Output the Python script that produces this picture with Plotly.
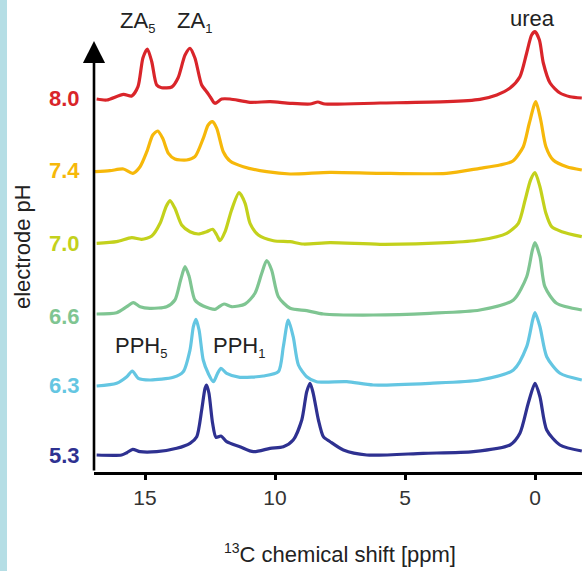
import plotly.graph_objects as go

# ---- data ----
PH_LABELS = ["8.0", "7.4", "7.0", "6.6", "6.3", "5.3"]
COLORS = ["#d9252a", "#f6b80a", "#c3d11c", "#7fc592", "#64c6e2", "#2e3191"]

PPM_80 = [16.86, 16.47, 15.83, 15.51, 15.27, 15.08, 14.91, 14.74, 14.55, 14.36, 13.97, 13.73, 13.46, 13.27, 13.08,
          12.82, 12.63, 12.47, 12.31, 12.05, 11.73, 10.96, 10.19, 9.42, 8.65, 8.35, 8.08, 5.96, 3.38, 2.12, 1.47,
          0.96, 0.58, 0.32, 0.13, 0.0, -0.17, -0.32, -0.58, -0.96, -1.35, -1.80]
INT_80 = [-1, -2, 3.7, 2, 11.3, 40, 49, 36.3, 13, 10.3, 11, 20, 43, 49.7, 40,
          13, 6.3, 0.3, -5.3, -1, -1, -4.3, -3.7, -5.3, -6, -4, -6, -5, -3.7, -1.3, 3,
          10, 21.3, 45, 63, 66.3, 58, 35, 15, 5, 1.3, 0]

PPM_74 = [16.92, 16.35, 15.83, 15.47, 15.19, 14.93, 14.70, 14.51, 14.32, 14.10, 13.85, 13.40, 13.08, 12.76, 12.57,
          12.41, 12.24, 11.99, 11.73, 11.22, 10.32, 9.42, 7.88, 5.96, 3.40, 2.12, 1.35, 0.85, 0.45, 0.22, -0.03,
          -0.22, -0.42, -0.70, -1.22, -1.80]
INT_74 = [-1.7, -0.7, 1, -3.3, 3.3, 18.3, 35, 39, 31.7, 16.7, 11, 10, 13.3, 31.7, 45,
          48.3, 41.7, 18.3, 9, 3.3, -1.7, -4, -2.3, -3.3, -3.3, 1.7, 5, 9, 23.3, 46.7, 68.3,
          50, 23.3, 10, 3.3, 0]

PPM_70 = [16.86, 16.09, 15.51, 15.13, 14.74, 14.42, 14.19, 14.04, 13.85, 13.59, 13.27, 12.95, 12.63, 12.40, 12.24,
          12.12, 11.92, 11.67, 11.38, 11.15, 10.96, 10.64, 10.06, 9.42, 8.91, 7.88, 5.96, 3.40, 2.12, 1.09, 0.64,
          0.38, 0.17, 0.0, -0.19, -0.42, -0.64, -1.03, -1.80]
INT_70 = [-0.3, 1.3, 5.3, 3.7, 7, 19.7, 36.3, 42.3, 34.7, 18, 11.3, 9, 11.3, 13.7, 8,
          2.3, 11.3, 33, 50.3, 39.7, 19.7, 8, 2.3, 1.3, -1, 0.3, -1.3, 0.3, 3, 9.7, 19.7,
          43, 63, 70.3, 56.3, 29.7, 16.3, 11.3, 6.3]

PPM_66 = [16.86, 16.09, 15.70, 15.45, 15.19, 14.81, 14.17, 13.85, 13.63, 13.46, 13.30, 13.08, 12.76, 12.31, 12.18,
          11.96, 11.67, 11.15, 10.77, 10.51, 10.32, 10.13, 9.87, 9.42, 8.78, 8.14, 6.22, 4.04, 2.12, 0.83, 0.32,
          0.10, 0.0, -0.19, -0.38, -0.83, -1.80]
INT_66 = [2, 3.3, 9.3, 13.3, 9.3, 7.7, 9.3, 16, 36, 49.3, 39.3, 16, 10, 6.7, 8.7,
          12, 9.3, 12, 22.7, 42.7, 55.3, 46, 19.3, 7.7, 5.3, 2, 1, 2.7, 6, 16, 39.3,
          66, 73.3, 59.3, 29.3, 12.7, 6]

PPM_63 = [16.86, 16.09, 15.70, 15.49, 15.26, 14.81, 13.91, 13.53, 13.27, 13.14, 13.04, 12.92, 12.76, 12.57, 12.37,
          12.22, 12.08, 11.86, 11.35, 10.45, 9.87, 9.68, 9.49, 9.30, 9.10, 8.78, 8.40, 7.24, 6.22, 4.04, 2.12,
          0.83, 0.32, 0.09, 0.0, -0.19, -0.45, -0.96, -1.80]
INT_63 = [-1, 1.7, 8.3, 14, 6.7, 5, 7.7, 13.3, 35, 58.3, 65.7, 55, 25, 11.7, 3.3,
          11, 16.7, 11.7, 7.7, 9, 13.3, 38.3, 65, 48.3, 20, 8.3, 3.3, 3.3, 0, 1.7, 5,
          15, 38.3, 65, 72.3, 58.3, 28.3, 11.7, 5]

PPM_53 = [16.86, 15.90, 15.70, 15.47, 15.19, 14.55, 13.78, 13.27, 13.01, 12.82, 12.69, 12.63, 12.54, 12.40, 12.27,
          12.08, 11.86, 11.35, 10.83, 10.19, 9.68, 9.30, 8.97, 8.78, 8.65, 8.53, 8.33, 8.14, 7.88, 7.37, 6.47,
          4.30, 2.37, 0.96, 0.58, 0.26, 0.0, -0.19, -0.45, -0.96, -1.80]
INT_53 = [0, 0, 2.3, 5.7, 3.3, 3.3, 6.7, 11.7, 18.3, 45, 66.7, 70, 61.7, 31.7, 17.7,
          19, 13.3, 8.3, 3.3, 6.7, 8.3, 15, 35, 63.3, 71.7, 61.7, 35, 18.3, 13.3, 5, 0,
          1.7, 3.3, 10, 21.7, 51.7, 71.7, 58.3, 25, 10, 4]

PPM_SERIES = [PPM_80, PPM_74, PPM_70, PPM_66, PPM_63, PPM_53]
INT_SERIES = [INT_80, INT_74, INT_70, INT_66, INT_63, INT_53]

X_TICKS = [15, 10, 5, 0]

SUB = "<sub><span style='font-size:13px'>{}</span></sub>"
PEAK_LABELS = ["ZA" + SUB.format(5), "ZA" + SUB.format(1), "urea", "PPH" + SUB.format(5), "PPH" + SUB.format(1)]
PEAK_LABEL_PPM = [15.3, 13.1, 0.08, 15.15, 11.4]

# ---- layout constants ----
OFFSETS = [374, 302, 229, 156, 87, 17]   # vertical stacking offsets
PEAK_LABEL_Y = [450, 450, 454, 125, 125]
W, H = 582, 571
ML, MB, MT = 94, 99, 0
PW = W - ML
PH = H - MB - MT
FONT = "Liberation Sans, Arial, sans-serif"

fig = go.Figure()
for ppm, inten, off, col in zip(PPM_SERIES, INT_SERIES, OFFSETS, COLORS):
    fig.add_trace(go.Scatter(
        x=ppm, y=[off + v for v in inten], mode="lines",
        line=dict(color=col, width=3.2, shape="spline", smoothing=0.7),
        showlegend=False, hoverinfo="skip"))

annotations = []
# pH labels
for lab, off, col in zip(PH_LABELS, OFFSETS, COLORS):
    annotations.append(dict(x=(82 - ML) / PW, xref="paper", y=off, yref="y", text=f"<b>{lab}</b>",
                            showarrow=False, xanchor="right", yanchor="middle",
                            font=dict(size=22, color=col, family=FONT)))
# peak labels
for lab, px, py in zip(PEAK_LABELS, PEAK_LABEL_PPM, PEAK_LABEL_Y):
    annotations.append(dict(x=px, y=py, xref="x", yref="y", text=lab, showarrow=False,
                            xanchor="center", yanchor="middle",
                            font=dict(size=22, color="#222222", family=FONT)))
# y axis arrow
annotations.append(dict(x=0, xref="paper", y=431, yref="y", ax=0, ay=431, axref="pixel", ayref="pixel",
                        text="", showarrow=True, arrowhead=2, arrowsize=1.7, arrowwidth=2.6,
                        arrowcolor="#000000", standoff=0, startstandoff=0))
# axis titles
annotations.append(dict(x=(340 - ML) / PW, xref="paper", y=(PH - (553 - MT)) / PH, yref="paper",
                        text="<sup><span style='font-size:14px'>13</span></sup>C chemical shift [ppm]",
                        showarrow=False, xanchor="center", yanchor="middle",
                        font=dict(size=22, color="#222222", family=FONT)))
annotations.append(dict(x=(22 - ML) / PW, xref="paper", y=(PH - (247 - MT)) / PH, yref="paper",
                        text="electrode pH", textangle=-90, showarrow=False,
                        xanchor="center", yanchor="middle",
                        font=dict(size=22, color="#222222", family=FONT)))

shapes = [dict(type="rect", xref="paper", yref="paper", x0=-ML / PW, x1=(7 - ML) / PW,
               y0=-MB / PH, y1=1 + MT / PH, fillcolor="#b5dee5", line=dict(width=0), layer="below")]

fig.update_layout(
    width=W, height=H, margin=dict(l=ML, r=0, t=MT, b=MB, pad=0),
    paper_bgcolor="white", plot_bgcolor="white",
    xaxis=dict(range=[(535 - ML) / 26, (535 - W) / 26], tickvals=X_TICKS, ticktext=[str(t) for t in X_TICKS],
               showline=True, linecolor="black", linewidth=3, ticks="outside", ticklen=5, tickwidth=2.5,
               tickcolor="black", showgrid=False, zeroline=False,
               tickfont=dict(size=21, color="#333333", family=FONT)),
    yaxis=dict(range=[0, PH], showline=False, showticklabels=False, showgrid=False, zeroline=False,
               ticks=""),
    annotations=annotations, shapes=shapes,
)
fig.write_html("out.html")
